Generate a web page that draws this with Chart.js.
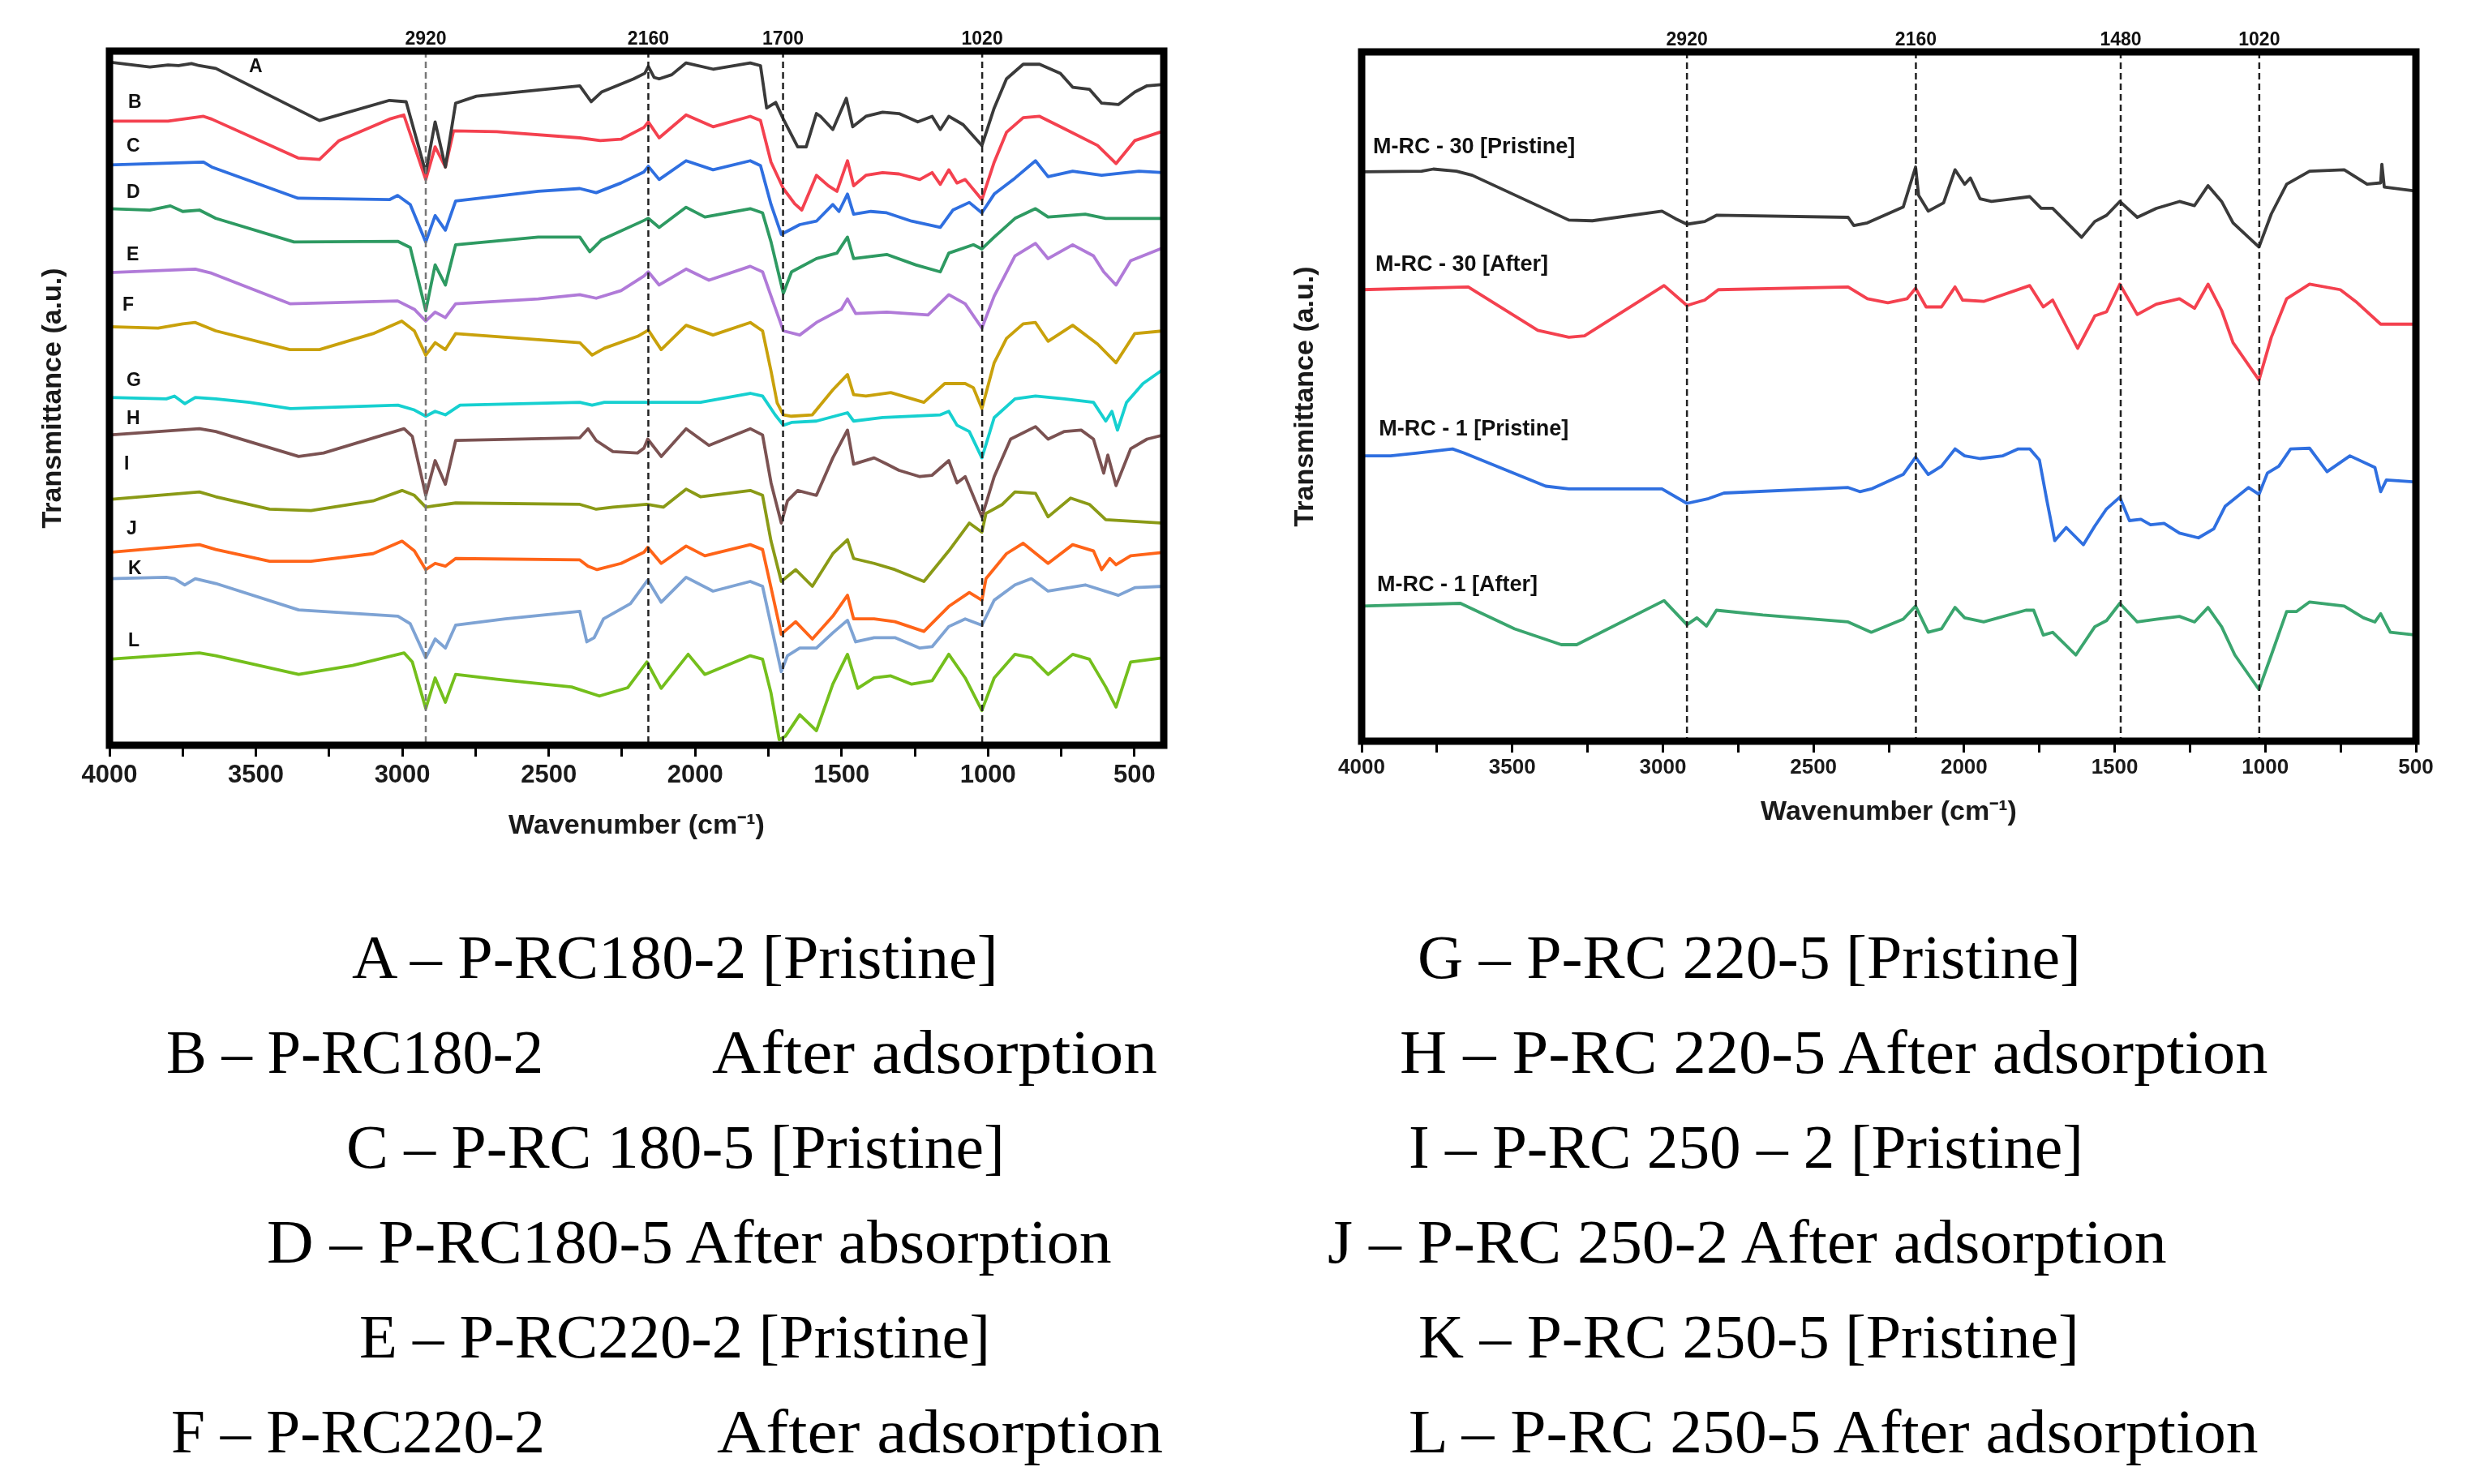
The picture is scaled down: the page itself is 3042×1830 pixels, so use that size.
<!DOCTYPE html>
<html><head><meta charset="utf-8">
<script src="https://cdn.jsdelivr.net/npm/chart.js@4.4.0/dist/chart.umd.min.js"></script>
<style>
html,body{margin:0;padding:0;background:#fff;}
#wrap{position:relative;width:3042px;height:1830px;overflow:hidden;background:#fff;}
#wrap canvas{position:absolute;top:0;}
.leg{position:absolute;white-space:nowrap;font-family:"Liberation Serif","Times New Roman",serif;font-size:77px;color:#000;transform-origin:0 0;}
</style></head><body>
<div id="wrap">
<canvas id="c1" width="1560" height="1060" style="left:0px"></canvas>
<canvas id="c2" width="1502" height="1060" style="left:1540px"></canvas>
</div>
<script>
// ---------- DATA : left panel (wavenumber cm-1, transmittance a.u.) ----------
const seriesA = [[4000,98.4],[3862,97.7],[3800,98.0],[3764,97.9],[3720,98.2],[3693,97.9],[3637,97.5],[3283,90.0],[3044,92.9],[2987,92.7],[2920,82.5],[2888,89.8],[2853,83.3],[2818,92.5],[2747,93.5],[2394,95.0],[2355,92.7],[2320,94.1],[2210,96.0],[2172,96.8],[2160,97.8],[2140,96.2],[2123,96.0],[2080,96.6],[2031,98.3],[1939,97.4],[1812,98.3],[1777,97.9],[1756,91.8],[1725,92.6],[1699,90.2],[1650,86.2],[1621,86.2],[1586,91.0],[1572,90.6],[1530,88.7],[1484,93.2],[1462,89.1],[1417,90.6],[1360,91.2],[1304,91.0],[1240,89.8],[1191,90.6],[1163,88.7],[1134,90.6],[1085,89.4],[1021,86.4],[979,91.8],[937,96.0],[880,98.1],[824,98.1],[753,96.8],[711,94.8],[654,94.5],[612,92.5],[555,92.3],[499,94.1],[457,95.0],[400,95.2]];
const seriesB = [[4000,89.9],[3800,89.9],[3679,90.6],[3651,90.2],[3356,84.6],[3283,84.4],[3216,87.1],[3044,90.2],[2995,90.8],[2920,81.5],[2888,86.2],[2853,83.3],[2825,88.5],[2677,88.4],[2394,87.5],[2324,87.1],[2253,87.3],[2175,89.0],[2160,89.8],[2123,87.5],[2031,90.8],[1939,89.1],[1812,90.6],[1777,90.0],[1741,84.0],[1699,80.2],[1660,78.0],[1636,77.1],[1586,82.1],[1545,80.6],[1516,79.8],[1480,84.2],[1459,80.6],[1417,82.1],[1360,82.5],[1304,82.3],[1233,81.5],[1191,82.5],[1163,80.8],[1134,82.9],[1106,81.0],[1078,81.5],[1021,78.6],[979,84.0],[937,88.3],[880,90.4],[824,90.6],[753,89.1],[626,86.4],[563,83.8],[499,87.1],[414,88.3],[400,88.3]];
const seriesC = [[4000,83.6],[3679,84.0],[3651,83.3],[3356,78.8],[3044,78.6],[3016,79.2],[2973,77.9],[2920,72.5],[2888,76.3],[2853,74.2],[2818,78.4],[2536,79.8],[2394,80.2],[2338,79.6],[2253,81.0],[2175,82.6],[2160,83.4],[2123,81.5],[2031,84.2],[1939,82.9],[1812,84.2],[1777,83.5],[1741,77.9],[1706,73.6],[1643,75.0],[1586,75.5],[1530,77.9],[1509,76.9],[1480,79.4],[1459,76.5],[1400,76.9],[1346,76.7],[1261,75.5],[1163,74.6],[1120,77.1],[1064,78.2],[1021,76.7],[979,79.4],[908,81.7],[838,84.2],[795,81.9],[711,82.7],[612,82.1],[485,82.7],[400,82.5]];
const seriesD = [[4000,77.3],[3862,77.1],[3792,77.7],[3750,76.9],[3693,77.1],[3637,75.9],[3370,72.5],[3016,72.6],[2973,71.7],[2920,62.6],[2888,69.2],[2853,66.3],[2818,72.1],[2536,73.2],[2394,73.2],[2360,71.1],[2320,72.8],[2175,75.6],[2160,75.9],[2123,74.6],[2031,77.5],[1967,76.1],[1812,77.3],[1770,76.7],[1741,72.5],[1699,65.1],[1671,68.2],[1586,70.1],[1516,70.9],[1480,73.2],[1459,70.1],[1346,70.7],[1247,69.2],[1163,68.2],[1134,70.9],[1050,72.1],[1021,71.5],[979,73.2],[908,75.9],[838,77.3],[795,76.1],[668,76.5],[598,75.9],[400,75.9]];
const seriesE = [[4000,68.1],[3707,68.6],[3651,68.0],[3384,63.6],[3016,64.0],[2959,62.8],[2920,61.1],[2888,62.4],[2853,61.6],[2818,63.6],[2536,64.3],[2394,64.9],[2338,64.4],[2253,65.5],[2175,67.6],[2160,68.2],[2123,66.3],[2031,68.6],[1953,67.0],[1812,69.0],[1770,68.2],[1741,64.7],[1699,59.7],[1643,59.1],[1586,60.9],[1501,62.8],[1480,64.3],[1452,62.2],[1346,62.4],[1205,62.0],[1134,64.9],[1078,63.6],[1021,60.1],[979,64.7],[908,70.5],[838,72.3],[795,70.1],[711,72.1],[640,70.5],[605,68.2],[563,66.3],[513,69.8],[400,71.7]];
const seriesF = [[4000,60.3],[3834,60.1],[3750,60.7],[3707,60.9],[3637,59.7],[3384,57.0],[3283,57.0],[3100,59.3],[3002,61.1],[2959,59.7],[2920,56.2],[2888,58.0],[2853,57.0],[2818,59.3],[2394,58.0],[2352,56.2],[2310,57.2],[2197,58.9],[2160,59.8],[2116,57.0],[2031,60.5],[1939,59.1],[1812,60.9],[1770,59.7],[1741,53.9],[1720,49.3],[1699,47.6],[1671,47.4],[1600,47.6],[1530,51.2],[1480,53.4],[1459,50.5],[1417,50.3],[1332,50.8],[1219,49.4],[1148,52.1],[1078,52.1],[1050,51.5],[1021,48.5],[979,55.1],[937,58.6],[880,60.7],[838,60.9],[795,58.2],[711,60.5],[626,57.8],[563,55.1],[499,59.3],[400,59.7]];
const seriesG = [[4000,50.1],[3806,49.9],[3778,50.3],[3743,49.2],[3707,50.1],[3637,49.9],[3523,49.4],[3382,48.5],[3015,49.0],[2959,48.3],[2920,47.4],[2888,48.1],[2853,47.6],[2803,49.0],[2394,49.4],[2352,49.0],[2310,49.4],[2165,49.4],[1982,49.4],[1812,50.7],[1770,50.3],[1727,47.6],[1699,46.1],[1671,46.5],[1586,46.7],[1480,47.9],[1459,46.7],[1360,47.2],[1163,47.6],[1134,48.1],[1106,46.1],[1064,45.2],[1021,41.4],[979,47.2],[908,49.9],[838,50.3],[739,49.9],[640,49.4],[598,46.7],[577,48.1],[558,45.4],[527,49.4],[471,52.1],[400,54.2]];
const seriesH = [[4000,44.7],[3693,45.6],[3637,45.2],[3354,41.6],[3269,42.1],[2994,45.6],[2966,44.5],[2920,36.0],[2888,41.0],[2853,37.6],[2818,43.9],[2394,44.3],[2366,45.6],[2338,43.9],[2281,42.3],[2197,42.1],[2175,42.8],[2162,44.1],[2116,41.6],[2031,45.6],[1953,43.2],[1812,45.6],[1770,44.7],[1741,37.8],[1706,32.0],[1685,35.2],[1650,36.7],[1614,36.3],[1586,36.0],[1530,41.4],[1480,45.4],[1459,40.5],[1389,41.4],[1346,40.5],[1304,39.6],[1233,38.7],[1191,38.9],[1134,41.0],[1106,37.8],[1078,38.7],[1021,32.9],[979,38.7],[923,44.1],[838,45.9],[795,44.1],[739,45.2],[682,45.4],[640,44.1],[605,39.2],[591,41.8],[563,37.4],[513,42.7],[457,44.1],[400,44.7]];
const seriesI = [[4000,35.4],[3693,36.5],[3637,35.8],[3453,34.0],[3312,33.8],[3100,35.2],[3001,36.7],[2959,36.0],[2920,34.3],[2888,34.5],[2818,34.9],[2394,34.7],[2338,34.0],[2281,34.3],[2165,34.7],[2109,34.3],[2031,36.9],[1982,35.8],[1812,36.7],[1770,36.0],[1741,29.4],[1706,23.6],[1657,25.3],[1600,22.9],[1530,27.6],[1480,29.6],[1459,26.9],[1389,26.2],[1318,25.3],[1219,23.6],[1134,28.0],[1064,32.0],[1021,30.7],[1007,33.4],[951,34.7],[908,36.5],[838,36.3],[795,32.9],[718,35.6],[654,34.7],[598,32.5],[400,32.0]];
const seriesJ = [[4000,27.8],[3693,28.9],[3637,28.2],[3453,26.5],[3312,26.5],[3100,27.6],[3001,29.4],[2959,28.0],[2920,25.3],[2888,26.2],[2853,25.8],[2818,26.9],[2394,26.7],[2366,25.8],[2335,25.3],[2253,26.2],[2175,27.8],[2162,28.5],[2116,26.2],[2031,28.7],[1967,27.3],[1812,28.9],[1770,28.2],[1741,22.7],[1706,16.0],[1657,17.8],[1600,15.3],[1530,18.6],[1480,21.6],[1459,18.2],[1389,18.2],[1318,17.8],[1219,16.4],[1134,20.0],[1064,22.0],[1021,20.9],[1007,24.0],[937,27.6],[880,29.1],[795,26.2],[711,28.9],[640,28.0],[612,25.3],[584,26.9],[563,26.0],[513,27.3],[400,27.8]];
const seriesK = [[4000,24.0],[3806,24.2],[3778,24.0],[3743,23.1],[3707,24.0],[3637,23.3],[3354,19.5],[3015,18.6],[2973,17.5],[2920,12.6],[2888,15.3],[2853,14.0],[2818,17.3],[2648,18.2],[2394,19.3],[2370,14.9],[2345,15.5],[2313,18.2],[2221,20.4],[2162,23.8],[2116,20.6],[2031,24.2],[1939,22.2],[1812,23.6],[1770,22.9],[1741,17.3],[1706,10.6],[1685,12.9],[1643,14.0],[1586,14.0],[1530,16.2],[1480,18.0],[1452,14.9],[1389,15.5],[1318,15.5],[1233,14.0],[1191,14.2],[1134,17.1],[1078,18.2],[1021,17.3],[979,20.9],[908,23.1],[852,24.0],[795,22.2],[668,23.1],[555,21.6],[499,22.7],[400,22.9]];
const seriesL = [[4000,12.4],[3693,13.3],[3637,12.9],[3354,10.2],[3170,11.5],[2994,13.3],[2966,12.0],[2920,5.3],[2888,9.7],[2853,6.2],[2818,10.2],[2677,9.5],[2422,8.4],[2327,7.1],[2230,8.3],[2165,12.0],[2116,8.2],[2024,13.1],[1967,10.2],[1812,12.9],[1770,12.4],[1741,7.5],[1713,0.8],[1692,1.3],[1643,4.4],[1586,2.1],[1530,8.8],[1480,13.1],[1445,8.2],[1389,9.7],[1332,10.0],[1261,8.8],[1191,9.3],[1134,13.1],[1078,9.7],[1021,5.0],[979,9.7],[908,13.1],[852,12.6],[795,10.2],[711,13.1],[654,12.4],[598,8.4],[563,5.5],[513,12.0],[400,12.6]];
const leftNames = ['A','B','C','D','E','F','G','H','I','J','K','L'];
const leftLabelAnchors = [[3524,97.7],[3936,92.6],[3942,86.2],[3942,79.6],[3942,70.6],[3956,63.3],[3942,52.5],[3942,47.0],[3950,40.5],[3942,31.1],[3936,25.4],[3936,15.0]];
const leftMarkers = [2920, 2160, 1700, 1020];

// ---------- DATA : right panel ----------
const seriesM30P = [[4000,82.6],[3801,82.7],[3762,83.0],[3685,82.7],[3633,82.1],[3312,75.6],[3234,75.5],[3003,76.9],[2958,75.8],[2920,75.0],[2861,75.4],[2822,76.3],[2385,76.0],[2366,74.8],[2321,75.2],[2202,77.5],[2161,83.3],[2151,79.2],[2119,76.9],[2068,78.1],[2030,82.9],[1998,80.8],[1979,81.7],[1947,78.7],[1909,78.3],[1782,79.0],[1744,77.3],[1706,77.3],[1610,73.1],[1566,75.4],[1527,76.3],[1483,78.3],[1425,76.0],[1362,77.3],[1285,78.3],[1235,77.7],[1190,80.6],[1145,78.3],[1107,75.2],[1021,71.7],[980,76.5],[929,80.8],[853,82.7],[738,82.9],[662,80.8],[617,81.0],[613,83.7],[605,80.4],[500,79.8]];
const seriesM30A = [[4000,65.5],[3646,65.9],[3415,59.6],[3312,58.6],[3260,58.8],[2996,66.1],[2920,63.2],[2861,64.0],[2816,65.5],[2385,65.9],[2321,64.2],[2253,63.6],[2189,64.2],[2161,65.7],[2126,63.0],[2075,63.0],[2030,65.9],[2005,64.0],[1935,63.8],[1782,66.1],[1737,63.0],[1706,64.0],[1623,57.0],[1566,61.7],[1527,62.3],[1483,66.3],[1425,61.9],[1362,63.4],[1285,64.2],[1235,62.8],[1190,66.3],[1145,62.5],[1107,57.8],[1021,52.4],[980,58.6],[929,64.2],[853,66.3],[751,65.5],[700,63.8],[617,60.5],[500,60.5]];
const seriesM1P = [[4000,41.4],[3904,41.4],[3814,41.8],[3698,42.4],[3659,41.8],[3389,37.0],[3312,36.6],[3003,36.6],[2920,34.5],[2848,35.2],[2797,36.0],[2385,36.8],[2346,36.2],[2308,36.6],[2202,38.7],[2161,41.2],[2119,38.7],[2075,39.9],[2030,42.4],[1998,41.4],[1947,41.0],[1871,41.4],[1820,42.4],[1782,42.4],[1750,40.8],[1725,34.9],[1699,29.1],[1661,31.0],[1604,28.5],[1566,31.2],[1527,33.7],[1483,35.4],[1451,32.0],[1413,32.2],[1381,31.4],[1336,31.6],[1285,30.2],[1222,29.5],[1171,30.8],[1133,34.1],[1056,36.8],[1021,35.8],[993,38.9],[955,39.9],[916,42.4],[853,42.5],[795,39.1],[719,41.4],[636,39.7],[617,36.2],[598,37.9],[500,37.6]];
const seriesM1A = [[4000,19.6],[3672,20.0],[3492,16.3],[3337,14.0],[3286,14.0],[2996,20.4],[2920,16.9],[2887,17.9],[2855,16.7],[2822,19.0],[2668,18.3],[2385,17.3],[2308,15.8],[2202,17.7],[2161,19.6],[2119,15.8],[2075,16.3],[2030,19.4],[1998,17.9],[1935,17.3],[1795,19.0],[1769,19.0],[1737,15.4],[1706,15.8],[1629,12.5],[1566,16.6],[1527,17.5],[1483,20.0],[1425,17.3],[1362,17.7],[1285,18.1],[1235,17.3],[1190,19.4],[1145,16.6],[1101,12.5],[1021,7.5],[980,12.5],[929,18.8],[897,18.8],[853,20.2],[738,19.6],[674,17.9],[636,17.3],[617,18.5],[585,15.8],[500,15.4]];
const rightNames = ['M-RC - 30 [Pristine]','M-RC - 30 [After]','M-RC - 1 [Pristine]','M-RC - 1 [After]'];
const rightLabelAnchors = [[3962,86.2],[3954,69.1],[3943,45.2],[3949,22.6]];
const rightMarkers = [2920, 2160, 1480, 1020];

// ---------- ticks & captions ----------
const majorTicks = [4000,3500,3000,2500,2000,1500,1000,500];
const minorTicks = [3750,3250,2750,2250,1750,1250,750];
const xTitle = 'Wavenumber (cm\u207B\u00B9)';
const yTitle = 'Transmittance (a.u.)';
const captionTexts = [
  'A \u2013 P-RC180-2 [Pristine]', 'B \u2013 P-RC180-2', 'After adsorption',
  'C \u2013 P-RC 180-5 [Pristine]', 'D \u2013 P-RC180-5 After absorption',
  'E \u2013 P-RC220-2 [Pristine]', 'F \u2013 P-RC220-2', 'After adsorption',
  'G \u2013 P-RC 220-5 [Pristine]', 'H \u2013 P-RC 220-5 After adsorption',
  'I \u2013 P-RC 250 \u2013 2 [Pristine]', 'J \u2013 P-RC 250-2 After adsorption',
  'K \u2013 P-RC 250-5 [Pristine]', 'L \u2013 P-RC 250-5 After adsorption'
];

// ---------- styling / layout ----------
const leftColors = ['#3a3a3a','#f4414f','#2f6fe0','#2e9a62','#b07ad8','#c9a10b','#16d0d0','#7b5252','#8a9a16','#ff6418','#7ea3d4','#74bf1c'];
const rightColors = ['#3a3a3a','#f4414f','#2f6fe0','#3aa56e'];
const captionLayout = [ // [left, right, baseline] in page px
  [434,1235,1206],[205,670,1323],[878,1427,1323],[427,1239,1440],[329,1375,1557],[443,1221,1674],[211,672,1791],[884,1434,1791],
  [1748,2566,1206],[1726,2801,1323],[1737,2569,1440],[1637,2676,1557],[1749,2564,1674],[1737,2792,1791]
];

const decor = {
  id: 'decor',
  afterDatasetsDraw(chart, args, o) {
    const {ctx, chartArea: a, scales: {x, y}} = chart;
    ctx.save();
    o.markers.forEach((m, i) => {
      const px = x.getPixelForValue(m);
      ctx.setLineDash([8, 5]);
      ctx.lineWidth = 2.5;
      ctx.strokeStyle = o.markerColors[i];
      ctx.beginPath(); ctx.moveTo(px, a.top); ctx.lineTo(px, a.bottom); ctx.stroke();
      ctx.setLineDash([]);
      ctx.fillStyle = '#111';
      ctx.font = 'bold 23px "Liberation Sans", Arial, sans-serif';
      ctx.textAlign = 'center'; ctx.textBaseline = 'middle';
      ctx.fillText(String(m), px, a.top - 14.5);
    });
    ctx.fillStyle = '#111';
    ctx.font = o.labelFont;
    ctx.textAlign = o.labelAlign; ctx.textBaseline = 'middle';
    o.labels.forEach((t, i) => {
      const p = o.anchors[i];
      ctx.fillText(t, x.getPixelForValue(p[0]), y.getPixelForValue(p[1]));
    });
    ctx.lineWidth = 9; ctx.strokeStyle = '#000'; ctx.lineJoin = 'miter';
    ctx.strokeRect(a.left, a.top, a.right - a.left, a.bottom - a.top);
    ctx.restore();
  }
};

function makePanel(canvasId, cfg) {
  const datasets = cfg.series.map((s, i) => ({
    data: s.map(p => ({x: p[0], y: p[1]})),
    borderColor: cfg.colors[i], backgroundColor: cfg.colors[i],
    borderWidth: 3.8, pointRadius: 0, tension: 0, fill: false,
    borderJoinStyle: 'round', borderCapStyle: 'round'
  }));
  return new Chart(document.getElementById(canvasId), {
    type: 'line',
    data: {datasets},
    plugins: [decor],
    options: {
      responsive: false, animation: false, devicePixelRatio: 1,
      layout: {padding: {left: 0, top: cfg.top, right: cfg.right, bottom: 0}},
      plugins: {
        legend: {display: false}, tooltip: {enabled: false},
        decor: {markers: cfg.markers, markerColors: cfg.markerColors, labels: cfg.labels, anchors: cfg.anchors, labelFont: cfg.labelFont, labelAlign: 'left'}
      },
      scales: {
        x: {
          type: 'linear', reverse: true, min: cfg.xMin, max: 4000,
          afterBuildTicks: s => { s.ticks = majorTicks.concat(minorTicks).sort((a, b) => a - b).map(v => ({value: v})); },
          afterFit: s => { s.height = cfg.xHeight; },
          ticks: {
            autoSkip: false, maxRotation: 0, minRotation: 0, padding: cfg.tickPad, color: '#1a1a1a',
            font: {family: '"Liberation Sans", Arial, sans-serif', size: cfg.tickSize, weight: 'bold'},
            callback: v => majorTicks.includes(v) ? String(v) : ''
          },
          grid: {display: true, drawOnChartArea: false, drawTicks: true, tickLength: 14, color: '#000', lineWidth: 3},
          border: {display: false},
          title: {display: true, text: xTitle, color: '#1a1a1a', padding: {top: 0, bottom: cfg.xTitlePad},
                  font: {family: '"Liberation Sans", Arial, sans-serif', size: 34, weight: 'bold'}}
        },
        y: {
          type: 'linear', min: 0, max: 100,
          afterFit: s => { s.width = cfg.yWidth; },
          ticks: {display: false},
          grid: {display: false, drawTicks: false},
          border: {display: false},
          title: {display: true, text: yTitle, color: '#1a1a1a', padding: {top: cfg.yTitlePad, bottom: 0},
                  font: {family: '"Liberation Sans", Arial, sans-serif', size: 34, weight: 'bold'}}
        }
      }
    }
  });
}

makePanel('c1', {
  series: [seriesA, seriesB, seriesC, seriesD, seriesE, seriesF, seriesG, seriesH, seriesI, seriesJ, seriesK, seriesL],
  colors: leftColors, xMin: 400, markers: leftMarkers, markerColors: ['#777', '#222', '#222', '#222'],
  labels: leftNames, anchors: leftLabelAnchors, labelFont: 'bold 23px "Liberation Sans", Arial, sans-serif',
  top: 63, right: 125, xHeight: 141, yWidth: 135, tickPad: 4.4, tickSize: 31, xTitlePad: 20.6, yTitlePad: 45.6
});
makePanel('c2', {
  series: [seriesM30P, seriesM30A, seriesM1P, seriesM1A],
  colors: rightColors, xMin: 500, markers: rightMarkers, markerColors: ['#222', '#222', '#222', '#222'],
  labels: rightNames, anchors: rightLabelAnchors, labelFont: 'bold 27px "Liberation Sans", Arial, sans-serif',
  top: 64, right: 63, xHeight: 146, yWidth: 139, tickPad: 3.4, tickSize: 26, xTitlePad: 37.6, yTitlePad: 49.6
});

// ---------- caption text below the charts ----------
(function () {
  const wrap = document.getElementById('wrap');
  const mctx = document.createElement('canvas').getContext('2d');
  mctx.font = '77px "Liberation Serif", "Times New Roman", serif';
  captionTexts.forEach((t, i) => {
    const [l, r, base] = captionLayout[i];
    const m = mctx.measureText(t);
    const asc = m.fontBoundingBoxAscent || 68, desc = m.fontBoundingBoxDescent || 17;
    const d = document.createElement('div');
    d.className = 'leg';
    d.textContent = t;
    d.style.left = l + 'px';
    d.style.top = (base - asc) + 'px';
    d.style.lineHeight = (asc + desc) + 'px';
    d.style.transform = 'scaleX(' + ((r - l) / m.width).toFixed(4) + ')';
    wrap.appendChild(d);
  });
})();
</script>
</body></html>
